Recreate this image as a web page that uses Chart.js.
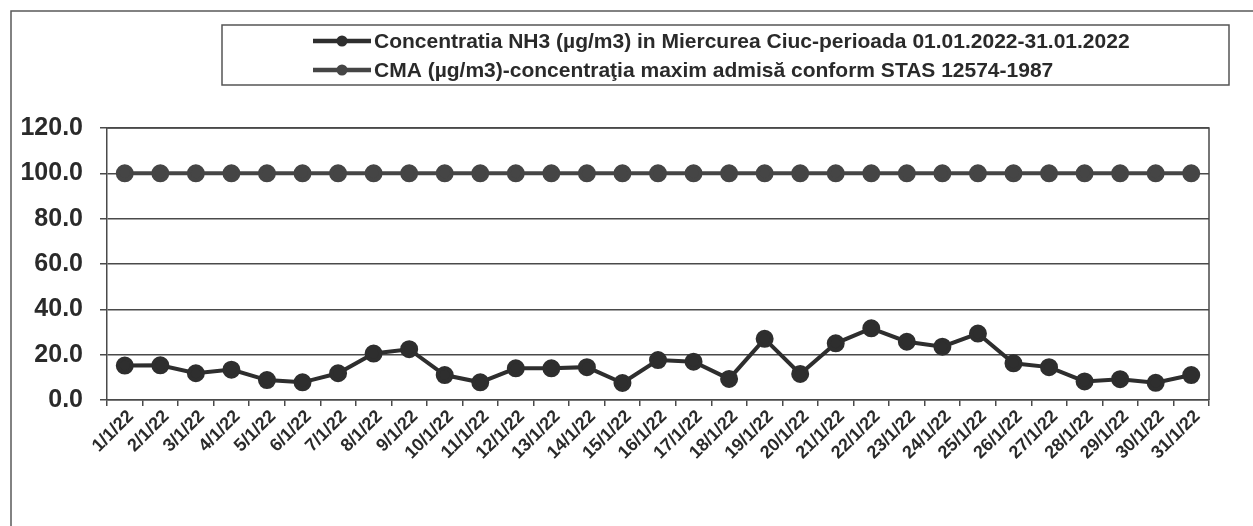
<!DOCTYPE html>
<html>
<head>
<meta charset="utf-8">
<script src="https://cdn.jsdelivr.net/npm/chart.js@4.4.1/dist/chart.umd.min.js"></script>
<style>
  html, body { margin: 0; padding: 0; background: #ffffff; }
  #wrap { width: 1253px; height: 526px; position: relative; }
</style>
</head>
<body>
<div id="wrap"><canvas id="c" width="1253" height="526"></canvas></div>
<script>
// ---- data ----
const categories = ['1/1/22','2/1/22','3/1/22','4/1/22','5/1/22','6/1/22','7/1/22','8/1/22','9/1/22','10/1/22',
  '11/1/22','12/1/22','13/1/22','14/1/22','15/1/22','16/1/22','17/1/22','18/1/22','19/1/22','20/1/22',
  '21/1/22','22/1/22','23/1/22','24/1/22','25/1/22','26/1/22','27/1/22','28/1/22','29/1/22','30/1/22','31/1/22'];
const nh3Values = [15.2, 15.3, 11.8, 13.4, 8.8, 7.8, 11.8, 20.5, 22.4, 11.0,
  7.8, 14.0, 14.0, 14.5, 7.5, 17.6, 16.9, 9.3, 27.0, 11.5,
  25.0, 31.6, 25.7, 23.5, 29.3, 16.2, 14.5, 8.2, 9.2, 7.6, 11.0];
const cmaValues = [100,100,100,100,100,100,100,100,100,100,100,100,100,100,100,100,100,100,100,100,100,100,100,100,100,100,100,100,100,100,100];
const yTicks = [0, 20, 40, 60, 80, 100, 120];
const seriesLabels = ['Concentratia NH3 (\u00b5g/m3) in Miercurea Ciuc-perioada 01.01.2022-31.01.2022',
  'CMA (\u00b5g/m3)-concentra\u0163ia maxim admis\u0103 conform STAS 12574-1987'];

const FONT = '"Liberation Sans", Arial, sans-serif';

const framePlugin = {
  id: 'framePlugin',
  afterDraw(chart) {
    const ctx = chart.ctx;
    const ca = chart.chartArea;
    ctx.save();
    // outer frame
    ctx.strokeStyle = '#5a5a5a';
    ctx.lineWidth = 1.5;
    ctx.strokeRect(11, 11, 1400, 700);
    // plot area right + top border
    ctx.strokeStyle = '#4a4a4a';
    ctx.lineWidth = 1.5;
    ctx.beginPath();
    ctx.moveTo(ca.left, ca.top);
    ctx.lineTo(ca.right, ca.top);
    ctx.lineTo(ca.right, ca.bottom);
    ctx.stroke();
    // legend box
    ctx.strokeStyle = '#555';
    ctx.lineWidth = 1.5;
    ctx.strokeRect(222, 25, 1007, 60);
    const rows = [41, 70];
    chart.data.datasets.forEach((ds, i) => {
      const y = rows[i];
      ctx.strokeStyle = ds.borderColor;
      ctx.lineWidth = 4.5;
      ctx.beginPath();
      ctx.moveTo(313, y);
      ctx.lineTo(371, y);
      ctx.stroke();
      ctx.fillStyle = ds.pointBackgroundColor;
      ctx.beginPath();
      ctx.arc(342, y, 5.5, 0, Math.PI * 2);
      ctx.fill();
      ctx.fillStyle = '#2a2a2a';
      ctx.font = 'bold 21px ' + FONT;
      ctx.textBaseline = 'middle';
      ctx.textAlign = 'left';
      ctx.fillText(ds.label, 374, y + 1);
    });
    ctx.restore();
  }
};

new Chart(document.getElementById('c'), {
  type: 'line',
  data: {
    labels: categories,
    datasets: [
      {
        label: seriesLabels[0],
        data: nh3Values,
        borderColor: '#2e2e2e',
        backgroundColor: '#2e2e2e',
        pointBackgroundColor: '#2e2e2e',
        pointBorderColor: '#2e2e2e',
        borderWidth: 4,
        pointRadius: 7,
        tension: 0
      },
      {
        label: seriesLabels[1],
        data: cmaValues,
        borderColor: '#454545',
        backgroundColor: '#454545',
        pointBackgroundColor: '#454545',
        pointBorderColor: '#454545',
        borderWidth: 4,
        pointRadius: 7,
        tension: 0
      }
    ]
  },
  options: {
    responsive: false,
    animation: false,
    devicePixelRatio: 1,
    layout: { padding: { left: 0, top: 128, right: 44, bottom: 0 } },
    plugins: {
      legend: { display: false },
      tooltip: { enabled: false }
    },
    scales: {
      x: {
        type: 'category',
        offset: true,
        afterFit(scale) { scale.height = 126; },
        grid: {
          display: true,
          offset: true,
          drawOnChartArea: false,
          drawTicks: true,
          tickLength: 6,
          color: '#4a4a4a',
          lineWidth: 1.5
        },
        border: { display: true, color: '#4a4a4a', width: 1.5 },
        ticks: {
          autoSkip: false,
          maxRotation: 45,
          minRotation: 45,
          padding: 0,
          labelOffset: 6,
          color: '#2a2a2a',
          font: { family: FONT, size: 18, weight: 'bold' }
        }
      },
      y: {
        min: 0,
        max: 120,
        afterFit(scale) { scale.width = 107; },
        afterBuildTicks(scale) { scale.ticks = yTicks.map(v => ({ value: v })); },
        grid: {
          color: '#4a4a4a',
          lineWidth: 1.5,
          drawTicks: true,
          tickLength: 7
        },
        border: { display: true, color: '#4a4a4a', width: 1.5 },
        ticks: {
          padding: 17,
          color: '#2a2a2a',
          font: { family: FONT, size: 25, weight: 'bold' },
          callback: (v) => Number(v).toFixed(1)
        }
      }
    }
  },
  plugins: [framePlugin]
});
</script>
</body>
</html>
